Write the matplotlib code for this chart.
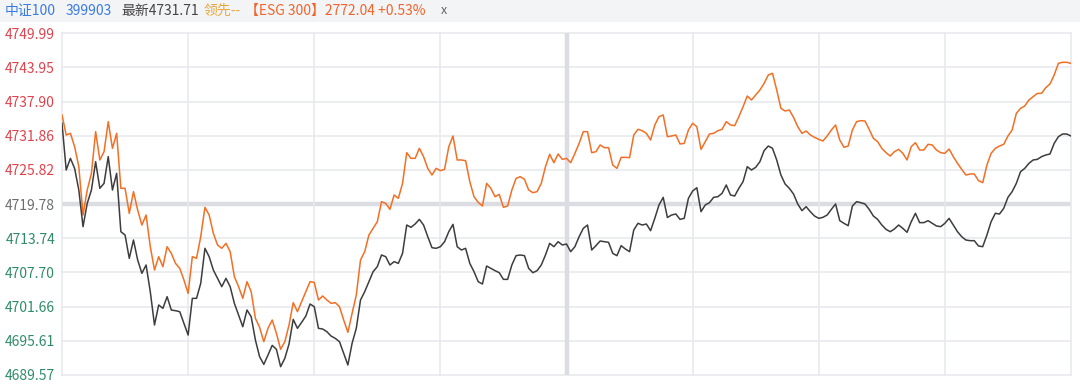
import numpy as np
import matplotlib
matplotlib.use("Agg")
import matplotlib.pyplot as plt
from matplotlib.patches import Rectangle

plt.rcParams['font.family'] = ['Noto Sans CJK SC', 'DejaVu Sans']

# y axis levels shown on the left
Y_TICKS = [4749.99, 4743.95, 4737.90, 4731.86, 4725.82, 4719.78,
           4713.74, 4707.70, 4701.66, 4695.61, 4689.57]
PREV_CLOSE = 4719.78

# minute index of the trading day (9:30 -> 15:00, lunch merged)
minutes = list(range(241))

# ESG 300, rescaled onto the 中证100 axis (orange)
esg300 = [
    4735.54, 4732.01, 4732.30, 4729.94, 4726.41, 4717.86, 4722.28, 4725.23, 4732.60, 4727.59,
    4729.06, 4734.36, 4729.65, 4732.30, 4722.58, 4722.58, 4718.15, 4721.99, 4718.74, 4716.09,
    4717.86, 4712.26, 4708.13, 4710.49, 4708.72, 4712.26, 4711.08, 4709.31, 4708.43, 4706.37,
    4704.01, 4710.49, 4710.20, 4714.03, 4719.22, 4717.86, 4714.62, 4712.56, 4711.97, 4712.85,
    4711.38, 4706.96, 4705.19, 4703.12, 4706.07, 4704.30, 4699.59, 4698.00, 4695.46, 4697.82,
    4699.29, 4696.94, 4694.11, 4695.46, 4698.41, 4702.36, 4700.77, 4702.54, 4704.30, 4706.07,
    4705.95, 4702.83, 4703.54, 4702.83, 4702.24, 4702.36, 4701.65, 4699.29, 4697.11, 4700.47,
    4703.71, 4709.90, 4711.38, 4714.32, 4715.50, 4716.68, 4720.22, 4719.92, 4718.86, 4721.40,
    4720.81, 4723.46, 4728.88, 4727.88, 4727.88, 4729.65, 4728.18, 4726.11, 4724.93, 4726.11,
    4725.70, 4725.94, 4729.94, 4731.83, 4727.59, 4727.59, 4727.47, 4723.75, 4721.10, 4720.10,
    4719.45, 4723.46, 4722.58, 4721.10, 4721.51, 4719.22, 4719.45, 4722.28, 4724.34, 4724.64,
    4724.17, 4722.28, 4721.81, 4721.99, 4723.46, 4726.41, 4728.59, 4727.11, 4728.65, 4727.70,
    4727.88, 4727.11, 4728.76, 4730.53, 4732.60, 4732.60, 4728.88, 4729.06, 4730.24, 4729.77,
    4729.77, 4726.70, 4726.11, 4728.06, 4728.06, 4728.00, 4732.01, 4733.01, 4732.77, 4732.30,
    4731.12, 4733.77, 4735.25, 4735.54, 4731.71, 4731.83, 4732.01, 4730.42, 4730.53, 4732.89,
    4734.07, 4733.48, 4729.47, 4730.83, 4732.18, 4732.30, 4732.77, 4733.01, 4734.37, 4733.78,
    4733.66, 4735.25, 4737.02, 4738.90, 4738.20, 4739.08, 4739.96, 4741.14, 4742.62, 4742.91,
    4739.96, 4736.72, 4736.25, 4736.43, 4735.13, 4733.48, 4732.30, 4732.71, 4732.01, 4731.59,
    4731.24, 4730.95, 4731.83, 4732.89, 4733.78, 4731.12, 4729.83, 4730.06, 4732.89, 4734.37,
    4734.54, 4734.48, 4733.00, 4731.42, 4730.83, 4729.65, 4728.88, 4728.29, 4729.06, 4729.47,
    4728.77, 4727.59, 4729.94, 4730.65, 4729.35, 4729.35, 4730.36, 4730.24, 4729.35, 4728.88,
    4728.77, 4729.53, 4728.18, 4727.00, 4725.94, 4724.93, 4725.11, 4725.11, 4723.93, 4723.58,
    4726.70, 4728.77, 4729.65, 4730.06, 4730.36, 4731.83, 4732.89, 4735.84, 4736.72, 4737.14,
    4738.20, 4738.79, 4739.37, 4739.37, 4740.38, 4741.03, 4742.62, 4744.68, 4744.86, 4744.86,
    4744.68,
]

# 中证100 (dark gray)
csi100 = [
    4734.07, 4725.82, 4727.88, 4726.11, 4722.28, 4715.80, 4719.92, 4722.28, 4727.29, 4722.58,
    4723.46, 4728.18, 4722.28, 4725.23, 4714.91, 4714.32, 4710.20, 4713.44, 4709.90, 4707.55,
    4709.02, 4704.30, 4698.41, 4701.95, 4701.36, 4703.42, 4701.06, 4700.94, 4700.77, 4698.70,
    4696.64, 4703.12, 4703.12, 4705.78, 4711.97, 4710.49, 4708.13, 4706.66, 4705.19, 4706.66,
    4705.19, 4702.24, 4700.18, 4698.11, 4701.06, 4699.88, 4695.76, 4692.81, 4691.45, 4693.10,
    4694.81, 4694.11, 4691.04, 4692.52, 4695.05, 4699.41, 4697.82, 4698.88, 4700.00, 4702.12,
    4701.65, 4697.82, 4697.70, 4697.23, 4696.46, 4696.05, 4695.46, 4693.40, 4691.34, 4695.17,
    4697.82, 4702.83, 4704.30, 4706.07, 4707.84, 4708.73, 4710.79, 4710.49, 4709.02, 4709.61,
    4709.31, 4711.08, 4716.09, 4715.68, 4716.27, 4717.09, 4716.09, 4714.03, 4712.08, 4711.97,
    4712.26, 4713.14, 4714.91, 4716.21, 4712.26, 4711.67, 4711.97, 4709.31, 4707.84, 4706.07,
    4705.66, 4708.84, 4708.43, 4708.02, 4707.66, 4706.48, 4706.48, 4709.02, 4710.67, 4710.79,
    4710.67, 4708.43, 4707.66, 4708.02, 4709.02, 4710.79, 4712.85, 4712.26, 4713.14, 4712.56,
    4712.73, 4711.38, 4712.26, 4714.03, 4715.50, 4716.09, 4711.67, 4712.44, 4713.26, 4713.14,
    4713.03, 4711.08, 4710.67, 4712.44, 4711.85, 4711.38, 4715.21, 4716.39, 4716.09, 4716.27,
    4715.09, 4717.27, 4719.63, 4720.98, 4717.42, 4717.86, 4718.04, 4717.09, 4717.27, 4720.81,
    4722.10, 4722.69, 4718.45, 4719.63, 4720.04, 4720.98, 4721.10, 4721.69, 4723.17, 4721.40,
    4721.22, 4722.58, 4723.76, 4726.41, 4725.82, 4726.29, 4727.29, 4729.24, 4730.06, 4729.65,
    4727.59, 4724.93, 4723.34, 4722.58, 4721.57, 4719.81, 4718.63, 4719.33, 4718.45, 4717.68,
    4717.27, 4717.45, 4717.86, 4718.86, 4719.81, 4716.86, 4716.39, 4715.97, 4719.45, 4720.22,
    4720.04, 4719.81, 4718.86, 4717.68, 4717.09, 4716.09, 4715.33, 4714.91, 4715.39, 4716.09,
    4715.50, 4714.80, 4716.68, 4718.16, 4716.51, 4716.51, 4716.86, 4716.39, 4715.92, 4715.80,
    4716.39, 4717.27, 4716.09, 4714.91, 4714.03, 4713.44, 4713.32, 4713.32, 4712.38, 4712.26,
    4714.32, 4716.68, 4718.16, 4718.04, 4719.04, 4720.98, 4721.99, 4723.46, 4725.52, 4726.11,
    4727.00, 4727.59, 4727.70, 4728.18, 4728.47, 4728.65, 4730.53, 4731.71, 4732.18, 4732.18,
    4731.83,
]

W, H = 1080, 385
fig = plt.figure(figsize=(W / 100, H / 100), dpi=100)
fig.patch.set_facecolor("white")

# header strip
fig.patches.append(Rectangle((0, 1 - 22 / H), 1, 22 / H, transform=fig.transFigure,
                             facecolor="#f3f4f6", edgecolor="none", zorder=0))
hy = 1 - 11 / H
fs = 10
fig.text(5 / W, hy, "中证100", color="#3a7be0", fontsize=fs, va="center")
fig.text(66 / W, hy, "399903", color="#3a7be0", fontsize=fs, va="center")
fig.text(121 / W, hy, "最新4731.71", color="#444444", fontsize=fs, va="center")
fig.text(204 / W, hy, "领先--", color="#eba83c", fontsize=fs, va="center")
fig.text(245 / W, hy, "【ESG 300】2772.04 +0.53%", color="#f0652b", fontsize=fs, va="center")
fig.text(441 / W, hy, "x", color="#666666", fontsize=9, va="center")

# plot area
left, right, top, bottom = 62, 1071, 33.3, 375
ax = fig.add_axes([left / W, (H - bottom) / H, (right - left) / W, (bottom - top) / H])
ax.set_xlim(0, 240)
ax.set_ylim(Y_TICKS[-1], Y_TICKS[0])

for s in ax.spines.values():
    s.set_visible(False)

grid_c = "#e6e8ec"
for v in Y_TICKS:
    if v == PREV_CLOSE:
        ax.axhline(v, color="#dcdde2", lw=3.2, zorder=1)
    else:
        ax.axhline(v, color=grid_c, lw=1.1, zorder=1, clip_on=False)
for m in range(0, 241, 30):
    if m == 120:
        ax.axvline(m, color="#dcdde2", lw=3.2, zorder=1)
    else:
        ax.axvline(m, color=grid_c, lw=1.1, zorder=1, clip_on=False)

ax.plot(minutes, esg300, color="#f36f24", lw=1.1, zorder=3)
ax.plot(minutes, csi100, color="#3d3d3d", lw=1.1, zorder=3)

ax.set_xticks([])
ax.set_yticks(Y_TICKS)
ax.set_yticklabels([f"{v:.2f}" for v in Y_TICKS], fontsize=10)
ax.tick_params(axis="y", length=0, pad=5)
for lab, v in zip(ax.get_yticklabels(), Y_TICKS):
    if v > PREV_CLOSE:
        lab.set_color("#e0434c")
    elif v < PREV_CLOSE:
        lab.set_color("#2f8c68")
    else:
        lab.set_color("#6e6e6e")

fig.savefig("out.png", dpi=100)
